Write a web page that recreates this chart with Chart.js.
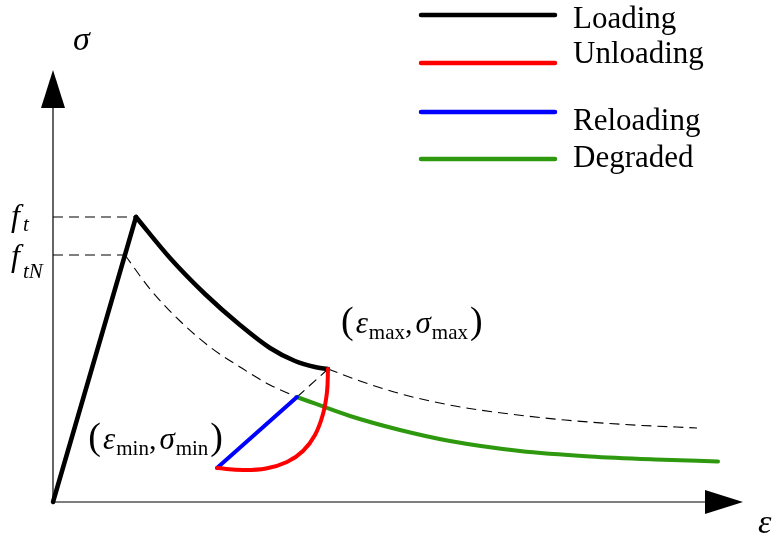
<!DOCTYPE html>
<html>
<head>
<meta charset="utf-8">
<title>Loading / unloading / reloading</title>
<script src="https://cdn.jsdelivr.net/npm/chart.js@4/dist/chart.umd.min.js"></script>
<style>
    html, body { margin: 0; padding: 0; background: #fff; overflow: hidden; }
    canvas { display: block; }
</style>
</head>
<body>
<canvas id="stress-strain" width="772" height="535"></canvas>
<script>
// === Curve data (strain eps, stress sig) ===
const ft = 2.85;
const ftN = 2.47;
const epsPeak = 0.83;
const epsMax = 2.75, sigMax = 1.33;
const epsMin = 1.64, sigMin = 0.34;
const epsRe = 2.44, sigRe = 1.05;   // reloading meets degraded curve

const loadUpEps = [0, epsPeak];
const loadUpSig = [0, ft];
const softEps = [epsPeak, 1.17, 1.52, 1.87, 2.17, 2.42, 2.62, epsMax];
const softSig = [ft, 2.44, 2.08, 1.77, 1.54, 1.41, 1.35, sigMax];
const unloadEps = [epsMax, 2.74, 2.70, 2.62, 2.50, 2.34, 2.13, 1.90, epsMin];
const unloadSig = [sigMax, 1.10, 0.88, 0.67, 0.51, 0.40, 0.335, 0.32, sigMin];
const reloadEps = [epsMin, epsRe];
const reloadSig = [sigMin, sigRe];
const degradedEps = [epsRe, 2.97, 3.47, 3.97, 4.67, 5.37, 6.02, 6.65];
const degradedSig = [sigRe, 0.86, 0.72, 0.61, 0.51, 0.455, 0.425, 0.405];

// dashed guides
const envLowEps = [0.72, 0.97, 1.27, 1.57, 1.87, 2.17, epsRe];
const envLowSig = [ftN, 2.13, 1.81, 1.55, 1.35, 1.17, sigRe];
const envHighEps = [epsMax, 3.07, 3.52, 4.02, 4.57, 5.12, 5.72, 6.44];
const envHighSig = [sigMax, 1.21, 1.07, 0.96, 0.88, 0.82, 0.775, 0.74];
const extEps = [epsRe, epsMax];
const extSig = [sigRe, sigMax];
const ftLineEps = [0, epsPeak];
const ftNLineEps = [0, 0.72];

// axis extents (arrow tips)
const axisEpsEnd = 6.90;
const axisSigEnd = 4.32;

const SERIF = '"Liberation Serif", "Times New Roman", serif';
const GREEN = "#2E990E";

const zip = (xs, ys) => xs.map((x, i) => ({ x, y: ys[i] }));

const solid = (label, data, color, curve, legend) => ({
    label, data,
    borderColor: color,
    borderWidth: color === "#000" ? 4.5 : 4,
    borderCapStyle: "round",
    borderJoinStyle: "round",
    pointRadius: 0,
    tension: curve === "smooth" ? 0.4 : 0,
    cubicInterpolationMode: curve === "mono" ? "monotone" : "default",
    showLine: true,
    legend,
});

const dashed = (data, curve) => ({
    label: "",
    data,
    borderColor: "#000",
    borderWidth: 1.1,
    borderDash: [10, 6],
    pointRadius: 0,
    cubicInterpolationMode: curve === "mono" ? "monotone" : "default",
    tension: 0,
    showLine: true,
    legend: false,
});

// === Axes with arrow heads ===
const axesPlugin = {
    id: "arrowAxes",
    beforeDatasetsDraw(chart) {
        const { ctx, scales: { x, y } } = chart;
        const x0 = x.getPixelForValue(0), y0 = y.getPixelForValue(0);
        const xTip = x.getPixelForValue(axisEpsEnd), yTip = y.getPixelForValue(axisSigEnd);
        ctx.save();
        ctx.strokeStyle = "#000";
        ctx.fillStyle = "#000";
        ctx.lineWidth = 1.2;
        ctx.beginPath();
        ctx.moveTo(x0, y0);
        ctx.lineTo(xTip - 20, y0);
        ctx.moveTo(x0, y0);
        ctx.lineTo(x0, yTip + 20);
        ctx.stroke();

        ctx.beginPath();
        ctx.moveTo(xTip, y0);
        ctx.lineTo(xTip - 38, y0 - 12);
        ctx.lineTo(xTip - 38, y0 + 12);
        ctx.closePath();
        ctx.fill();

        ctx.beginPath();
        ctx.moveTo(x0, yTip);
        ctx.lineTo(x0 - 12, yTip + 38);
        ctx.lineTo(x0 + 12, yTip + 38);
        ctx.closePath();
        ctx.fill();
        ctx.restore();
    },
};

// draws a run of text pieces (with sub-scripts) from left to right
const richWidth = (ctx, parts) => parts.reduce((w, p) => {
    ctx.font = p.font;
    return w + ctx.measureText(p.text).width + (p.gap || 0);
}, 0);

const drawRich = (ctx, x, y, parts) => {
    let cx = x;
    parts.forEach((p) => {
        ctx.font = p.font;
        ctx.fillText(p.text, cx, y + (p.dy || 0));
        cx += ctx.measureText(p.text).width + (p.gap || 0);
    });
};

const it = (s) => `italic ${s}px ${SERIF}`;
const rm = (s) => `${s}px ${SERIF}`;

const pointLabel = (sub) => [
    { text: "(", font: rm(38), gap: 2 },
    { text: "ε", font: it(31), gap: 1 },
    { text: sub, font: rm(21), dy: 6 },
    { text: ",", font: rm(30), gap: 3 },
    { text: "σ", font: it(31), gap: 1 },
    { text: sub, font: rm(21), dy: 6, gap: 2 },
    { text: ")", font: rm(38) },
];

// === Labels and legend ===
const labelsPlugin = {
    id: "diagramLabels",
    afterDatasetsDraw(chart) {
        const { ctx, scales: { x, y } } = chart;
        ctx.save();
        ctx.fillStyle = "#000";
        ctx.textBaseline = "alphabetic";

        // axis symbols
        ctx.font = it(34);
        ctx.fillText("σ", x.getPixelForValue(0) + 20, y.getPixelForValue(axisSigEnd) - 20);
        ctx.fillText("ε", x.getPixelForValue(axisEpsEnd) + 15, y.getPixelForValue(0) + 31);

        // strength levels
        const x0 = x.getPixelForValue(0);
        drawRich(ctx, x0 - 42, y.getPixelForValue(ft) + 9, [
            { text: "f", font: it(32), gap: 3 },
            { text: "t", font: it(21), dy: 5 },
        ]);
        drawRich(ctx, x0 - 42, y.getPixelForValue(ftN) + 11, [
            { text: "f", font: it(32), gap: 3 },
            { text: "tN", font: it(21), dy: 12 },
        ]);

        // reversal points
        drawRich(ctx, x.getPixelForValue(epsMax) + 13, y.getPixelForValue(sigMax) - 36, pointLabel("max"));
        const minParts = pointLabel("min");
        const w = richWidth(ctx, minParts);
        drawRich(ctx, x.getPixelForValue(epsMin) + 6 - w, y.getPixelForValue(sigMin) - 19, minParts);

        // legend (custom spacing between rows)
        const rows = [
            { line: 15, text: 28 },
            { line: 63, text: 63 },
            { line: 112, text: 130 },
            { line: 159, text: 167 },
        ];
        const entries = chart.data.datasets.filter((d) => d.legend);
        ctx.font = rm(31);
        ctx.lineCap = "round";
        entries.forEach((d, i) => {
            ctx.strokeStyle = d.borderColor;
            ctx.lineWidth = 4.5;
            ctx.beginPath();
            ctx.moveTo(421, rows[i].line);
            ctx.lineTo(555, rows[i].line);
            ctx.stroke();
            ctx.fillText(d.label, 573, rows[i].text);
        });
        ctx.restore();
    },
};

const ctx = document.getElementById("stress-strain").getContext("2d");
new Chart(ctx, {
    type: "scatter",
    data: {
        datasets: [
            solid("Loading", zip(loadUpEps, loadUpSig), "#000", "line", true),
            solid("Unloading", zip(unloadEps, unloadSig), "#FF0000", "smooth", true),
            solid("Reloading", zip(reloadEps, reloadSig), "#0000FF", "line", true),
            solid("Degraded", zip(degradedEps, degradedSig), GREEN, "mono", true),
            solid("Loading", zip(softEps, softSig), "#000", "mono", false),
            dashed(zip(extEps, extSig), "line"),
            dashed(zip(envLowEps, envLowSig), "mono"),
            dashed(zip(envHighEps, envHighSig), "mono"),
            dashed(zip(ftLineEps, [ft, ft]), "line"),
            dashed(zip(ftNLineEps, [ftN, ftN]), "line"),
        ],
    },
    options: {
        responsive: false,
        animation: false,
        devicePixelRatio: 1,
        layout: { padding: 0 },
        plugins: {
            legend: { display: false },
            tooltip: { enabled: false },
        },
        scales: {
            x: { type: "linear", display: false, min: -0.53, max: 7.19 },
            y: { type: "linear", display: false, min: -0.33, max: 5.02 },
        },
    },
    plugins: [axesPlugin, labelsPlugin],
});
</script>
</body>
</html>
